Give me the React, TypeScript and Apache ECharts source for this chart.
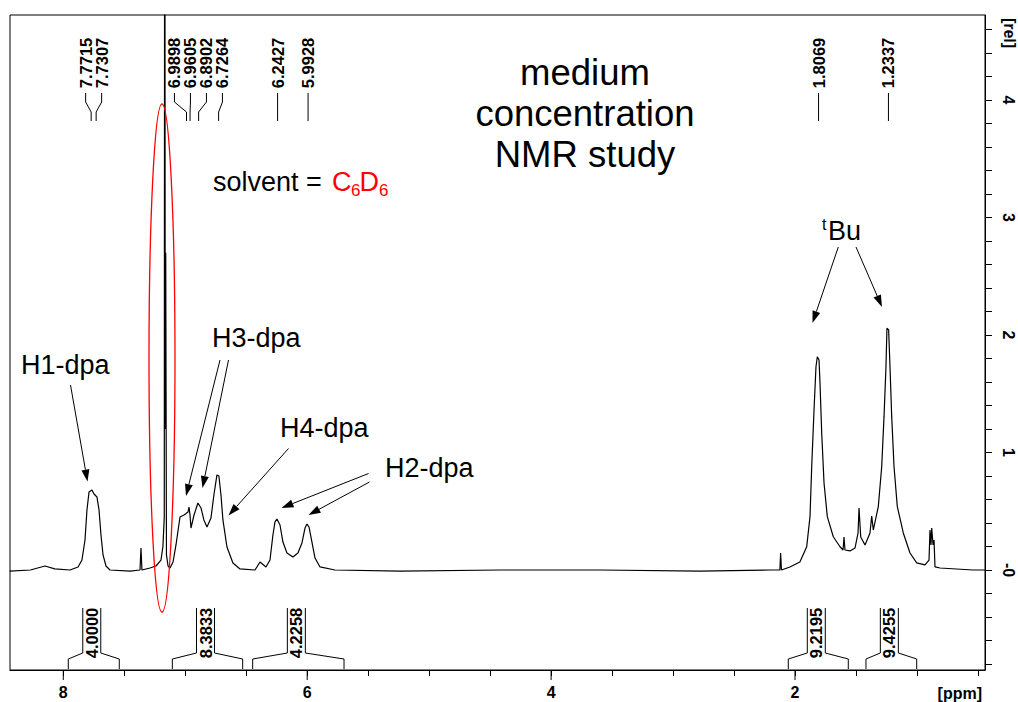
import React, { useEffect, useRef } from "react";
import * as echarts from "echarts";

// Spectrum trace: chemical shift (ppm) and intensity (rel)
const ppm = [8.44, 8.27, 8.15, 8.07, 7.945, 7.879, 7.847, 7.822, 7.806, 7.789, 7.765, 7.748, 7.724, 7.707, 7.691, 7.674, 7.65, 7.617, 7.453, 7.371,
  7.363, 7.355, 7.289, 7.24, 7.199, 7.183, 7.172, 7.168, 7.164, 7.16, 7.154, 7.141, 7.125, 7.1, 7.076, 7.043, 7.01, 6.977, 6.969, 6.961,
  6.953, 6.928, 6.896, 6.871, 6.847, 6.822, 6.789, 6.765, 6.74, 6.724, 6.707, 6.691, 6.658, 6.609, 6.551, 6.428, 6.387, 6.338, 6.305, 6.281,
  6.264, 6.248, 6.223, 6.199, 6.166, 6.117, 6.076, 6.043, 6.018, 6.002, 5.985, 5.961, 5.936, 5.895, 5.772, 5.24, 4.42, 3.6, 2.78, 2.206,
  2.124, 2.118, 2.111, 2.042, 1.96, 1.904, 1.877, 1.863, 1.844, 1.828, 1.817, 1.803, 1.795, 1.781, 1.762, 1.735, 1.686, 1.631, 1.606, 1.598,
  1.59, 1.549, 1.508, 1.483, 1.475, 1.461, 1.426, 1.385, 1.371, 1.358, 1.317, 1.289, 1.27, 1.254, 1.246, 1.232, 1.221, 1.207, 1.188, 1.161,
  1.112, 1.057, 1.002, 0.934, 0.901, 0.893, 0.885, 0.879, 0.868, 0.86, 0.852, 0.811, 0.54, 0.442];
const intensity = [-0.01, 0, 0.034, 0.009, 0, 0.026, 0.085, 0.255, 0.511, 0.664, 0.681, 0.647, 0.621, 0.511, 0.298, 0.128, 0.034, 0, -0.01, 0,
  0.187, 0, 0.017, 0.034, 0.085, 0.2, 0.45, 8.0, 1.2, 2.7, 0.128, 0.034, 0.017, 0.068, 0.213, 0.451, 0.468, 0.494, 0.536, 0.468,
  0.357, 0.468, 0.57, 0.528, 0.426, 0.366, 0.443, 0.638, 0.809, 0.8, 0.638, 0.426, 0.196, 0.06, 0.009, 0, 0.068, 0.026, 0.085, 0.298,
  0.409, 0.434, 0.383, 0.238, 0.145, 0.111, 0.145, 0.23, 0.357, 0.391, 0.366, 0.238, 0.102, 0.026, 0, -0.01, 0, 0, -0.01, 0,
  0, 0.145, 0, 0.026, 0.068, 0.198, 0.454, 0.879, 1.362, 1.73, 1.815, 1.787, 1.591, 1.166, 0.74, 0.454, 0.283, 0.198, 0.17, 0.281,
  0.17, 0.162, 0.187, 0.315, 0.528, 0.281, 0.213, 0.315, 0.46, 0.34, 0.539, 0.879, 1.305, 1.73, 2.057, 2.043, 1.73, 1.305, 0.879, 0.539,
  0.315, 0.145, 0.06, 0.043, 0.085, 0.34, 0.213, 0.357, 0.213, 0.255, 0.026, 0.017, 0, 0];

// Axis ticks and labels
const xTickValues = [0.5, 1, 1.5, 2, 2.5, 3, 3.5, 4, 4.5, 5, 5.5, 6, 6.5, 7, 7.5, 8];
const xLabelValues = [2, 4, 6, 8];
const yTickValues = [-0.8, -0.6, -0.4, -0.2, 0, 0.2, 0.4, 0.6, 0.8, 1, 1.2, 1.4, 1.6, 1.8, 2, 2.2, 2.4, 2.6, 2.8, 3, 3.2, 3.4, 3.6, 3.8, 4, 4.2, 4.4, 4.6];
const yLabelValues = [0, 1, 2, 3, 4];

// Peak picking
const peakPpm = [7.7715, 7.7307, 6.9898, 6.9605, 6.8902, 6.7264, 6.2427, 5.9928, 1.8069, 1.2337];

// Integrals
const integralStart = [7.959, 7.106, 6.447, 2.055, 1.418];
const integralEnd = [7.541, 6.529, 5.698, 1.563, 1.002];
const integralValue = ["4.0000", "8.3833", "4.2258", "9.2195", "9.4255"];

const FONT = "'Liberation Sans', Arial, Helvetica, sans-serif";

function txt(text: string, x: number, y: number, size: number, o: any = {}) {
  const align = o.align || "left";
  return {
    type: "text",
    x,
    y,
    rotation: o.rot || 0,
    z: 10,
    style: {
      text,
      fill: o.color || "#000",
      font: `${o.bold ? "bold " : ""}${size}px ${FONT}`,
      align,
      verticalAlign: "middle",
      textAlign: align,
      textVerticalAlign: "middle",
      lineHeight: o.lh,
    },
  };
}

function arrow(x1: number, y1: number, x2: number, y2: number) {
  const dx = x2 - x1, dy = y2 - y1, L = Math.hypot(dx, dy);
  const ux = dx / L, uy = dy / L;
  const hl = 12, hw = 4;
  const bx = x2 - ux * hl, by = y2 - uy * hl;
  return [
    { type: "line", z: 10, shape: { x1, y1, x2: bx, y2: by }, style: { stroke: "#000", lineWidth: 1 } },
    { type: "polygon", z: 10, shape: { points: [[x2, y2], [bx - uy * hw, by + ux * hw], [bx + uy * hw, by - ux * hw]] }, style: { fill: "#000" } },
  ];
}

export default function App() {
  const ref = useRef<HTMLDivElement>(null);
  useEffect(() => {
    const chart = echarts.init(ref.current!, null, { renderer: "svg" });
    const gridTop = 15, gridBottom = 670;
    const option: any = {
      animation: false,
      backgroundColor: "#fff",
      grid: { left: 10, top: gridTop, width: 975, height: gridBottom - gridTop, show: true, borderColor: "#000", borderWidth: 1, backgroundColor: "transparent" },
      xAxis: {
        type: "value", min: 0.442, max: 8.437, inverse: true, position: "bottom",
        axisLine: { show: true, onZero: false, lineStyle: { color: "#000", width: 1 } },
        axisTick: { show: true, length: 6, customValues: xTickValues, lineStyle: { color: "#000" } },
        axisLabel: { customValues: xLabelValues, margin: 14, color: "#000", fontWeight: "bold", fontSize: 16, fontFamily: FONT },
        splitLine: { show: false },
      },
      yAxis: {
        type: "value", min: -0.851, max: 4.723, position: "right",
        axisLine: { show: true, onZero: false, lineStyle: { color: "#000", width: 1 } },
        axisTick: { show: true, length: 7, customValues: yTickValues, lineStyle: { color: "#000" } },
        axisLabel: {
          customValues: yLabelValues, rotate: -90, margin: 15, color: "#000", fontWeight: "bold", fontSize: 16, fontFamily: FONT,
          formatter: (v: number) => (v === 0 ? "-0" : String(v)),
        },
        splitLine: { show: false },
      },
      series: [{
        type: "line",
        data: ppm.map((p, i) => [p, intensity[i]]),
        showSymbol: false,
        symbol: "none",
        lineStyle: { color: "#000", width: 1.2 },
        clip: true,
        z: 5,
      }],
    };
    chart.setOption(option);

    const toX = (p: number) => (chart.convertToPixel({ gridIndex: 0 }, [p, 0]) as number[])[0];
    const g: any[] = [];

    // long ticks at labelled ppm values
    xLabelValues.forEach((v) => {
      const x = toX(v);
      g.push({ type: "line", shape: { x1: x, y1: gridBottom, x2: x, y2: gridBottom + 10 }, style: { stroke: "#000", lineWidth: 1 } });
    });

    // peak labels with spread positions
    const pxs = peakPpm.map(toX);
    const gap = 16;
    const groups: { members: number[]; mean: number }[] = [];
    pxs.forEach((x, i) => {
      groups.push({ members: [i], mean: x });
      while (groups.length > 1) {
        const a = groups[groups.length - 2], b = groups[groups.length - 1];
        const aEnd = a.mean + ((a.members.length - 1) / 2) * gap;
        const bStart = b.mean - ((b.members.length - 1) / 2) * gap;
        if (aEnd + gap > bStart) {
          const members = a.members.concat(b.members);
          const mean = members.reduce((s, k) => s + pxs[k], 0) / members.length;
          groups.splice(groups.length - 2, 2, { members, mean });
        } else break;
      }
    });
    groups.forEach((gr) => {
      gr.members.forEach((k, j) => {
        const lx = gr.mean + (j - (gr.members.length - 1) / 2) * gap;
        const px = pxs[k];
        g.push(txt(peakPpm[k].toFixed(4), lx, 63, 16.5, { bold: true, rot: Math.PI / 2, align: "center" }));
        g.push({ type: "polyline", shape: { points: [[lx, 93], [lx, 102], [px, 112], [px, 121]] }, style: { stroke: "#000", lineWidth: 1, fill: "none" } });
      });
    });

    // integrals
    integralValue.forEach((val, i) => {
      const x1 = toX(integralStart[i]), x2 = toX(integralEnd[i]);
      const cx = (x1 + x2) / 2 - 2;
      g.push({ type: "polyline", shape: { points: [[x1, 669], [x1, 659], [cx - 9, 653], [cx - 9, 608]] }, style: { stroke: "#000", lineWidth: 1, fill: "none" } });
      g.push({ type: "polyline", shape: { points: [[cx + 9, 608], [cx + 9, 653], [x2, 659], [x2, 669]] }, style: { stroke: "#000", lineWidth: 1, fill: "none" } });
      g.push(txt(val, cx, 633, 16.5, { bold: true, rot: Math.PI / 2, align: "center" }));
    });

    // axis units
    g.push(txt("[ppm]", 982, 693, 16, { bold: true, align: "right" }));
    g.push(txt("[rel]", 1009, 33, 16, { bold: true, rot: -Math.PI / 2, align: "center" }));

    // annotations
    g.push(txt("medium\nconcentration\nNMR study", 585, 113, 36.5, { align: "center", lh: 41 }));
    g.push(txt("solvent =", 213, 182, 27));
    g.push(txt("C", 332, 182, 27, { color: "#ff0000" }));
    g.push(txt("6", 351, 190, 17, { color: "#ff0000" }));
    g.push(txt("D", 359.5, 182, 27, { color: "#ff0000" }));
    g.push(txt("6", 379, 190, 17, { color: "#ff0000" }));
    g.push(txt("H1-dpa", 21, 365, 27));
    g.push(txt("H3-dpa", 212, 338, 27));
    g.push(txt("H4-dpa", 280, 428, 27));
    g.push(txt("H2-dpa", 385, 468, 27));
    g.push(txt("t", 822, 224, 16));
    g.push(txt("Bu", 828, 231, 27));

    g.push(...arrow(70.5, 385, 87.5, 481.5));
    g.push(...arrow(220, 360, 186, 496));
    g.push(...arrow(228.5, 360, 202.5, 488));
    g.push(...arrow(288.5, 448.5, 228.5, 515.5));
    g.push(...arrow(368.5, 473.5, 281.5, 508));
    g.push(...arrow(369.5, 482, 308.5, 515));
    g.push(...arrow(838.3, 247, 812.5, 323));
    g.push(...arrow(856, 247, 882, 307));

    // solvent highlight
    g.push({ type: "ellipse", z: 11, shape: { cx: 162, cy: 358, rx: 13, ry: 254 }, style: { fill: "none", stroke: "#ff0000", lineWidth: 1.3 } });

    chart.setOption({ graphic: { elements: g } });
    return () => chart.dispose();
  }, []);
  return <div ref={ref} style={{ position: "fixed", left: 0, top: 0, width: 1018, height: 702, background: "#fff" }} />;
}
